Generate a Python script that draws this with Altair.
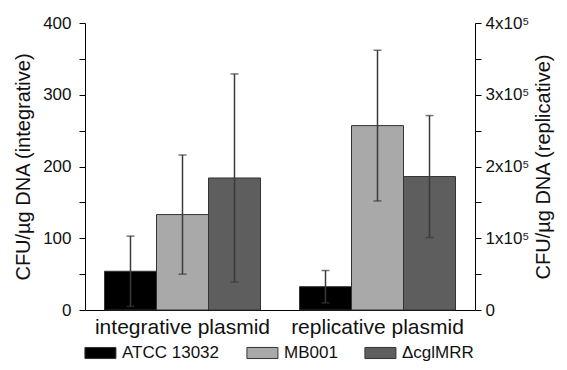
import altair as alt
import pandas as pd

groups = ["integrative plasmid", "replicative plasmid"]
strains = ["ATCC 13032", "MB001", "ΔcglMRR"]
colors = ["#000000", "#a9a9a9", "#5e5e5e"]

integrative_means = [54, 133, 184]
integrative_err = [49, 83, 145]
replicative_means = [32500, 257000, 186000]
replicative_err = [22500, 105000, 85000]

left_ticks = [0, 50, 100, 150, 200, 250, 300, 350, 400]
right_ticks = [0, 50000, 100000, 150000, 200000, 250000, 300000, 350000, 400000]


def make_df(group, means, errs):
    return pd.DataFrame({
        "group": [group] * len(strains),
        "strain": strains,
        "mean": means,
        "lo": [m - e for m, e in zip(means, errs)],
        "hi": [m + e for m, e in zip(means, errs)],
    })


df_int = make_df(groups[0], integrative_means, integrative_err)
df_rep = make_df(groups[1], replicative_means, replicative_err)

FONT = "Liberation Sans"

x_enc = alt.X(
    "group:N",
    sort=groups,
    scale=alt.Scale(domain=groups, paddingInner=0.2, paddingOuter=0.1),
    axis=alt.Axis(
        title=None, ticks=False, labelAngle=0, labelFontSize=21, labelPadding=6,
        labelColor="#111", domainColor="#000", domainWidth=1, labelFont=FONT,
    ),
)
xoff_enc = alt.XOffset("strain:N", sort=strains, scale=alt.Scale(paddingInner=0, paddingOuter=0))
color_enc = alt.Color(
    "strain:N",
    sort=strains,
    scale=alt.Scale(domain=strains, range=colors),
    legend=alt.Legend(
        title=None, orient="none", legendX=-1, legendY=318, direction="horizontal",
        columns=3, symbolType="M-1,-0.5H1.8V0.5H-1Z", symbolSize=490,
        symbolStrokeColor="#333", symbolStrokeWidth=1, labelOffset=14,
        columnPadding=24, labelFontSize=17, labelFont=FONT, labelColor="#111",
        labelLimit=0,
    ),
)


def layer_for(df, domain, axis):
    base = alt.Chart(df)
    scale = alt.Scale(domain=domain, nice=False, zero=True)
    bars = base.mark_bar(stroke="#333", strokeWidth=1).encode(
        x=x_enc,
        xOffset=xoff_enc,
        y=alt.Y("mean:Q", scale=scale, axis=axis),
        color=color_enc,
    )
    rule = base.mark_rule(color="#3a3a3a", strokeWidth=1.5).encode(
        x=x_enc, xOffset=xoff_enc,
        y=alt.Y("lo:Q", scale=scale, axis=axis), y2="hi:Q",
    )
    cap_lo = base.mark_tick(color="#3a3a3a", thickness=1.5, size=8, orient="horizontal").encode(
        x=x_enc, xOffset=xoff_enc, y=alt.Y("lo:Q", scale=scale, axis=axis),
    )
    cap_hi = base.mark_tick(color="#3a3a3a", thickness=1.5, size=8, orient="horizontal").encode(
        x=x_enc, xOffset=xoff_enc, y=alt.Y("hi:Q", scale=scale, axis=axis),
    )
    return alt.layer(bars, rule, cap_lo, cap_hi)


left_axis = alt.Axis(
    title="CFU/µg DNA (integrative)", orient="left", values=left_ticks,
    labelExpr="datum.value % 100 == 0 ? datum.label : ''",
    grid=False, tickSize=6, tickColor="#000", domainColor="#000",
    labelFontSize=17, labelFont=FONT, labelColor="#111", labelPadding=8,
    titleFontSize=20, titleFont=FONT, titleFontWeight="normal", titleColor="#111",
    titlePadding=9,
)
right_axis = alt.Axis(
    title="CFU/µg DNA (replicative)", orient="right", values=right_ticks,
    labelExpr="datum.value == 0 ? '0' : (datum.value % 100000 == 0 ? (datum.value / 100000) + 'x10⁵' : '')",
    grid=False, tickSize=6, tickColor="#000", domainColor="#000",
    labelFontSize=17, labelFont=FONT, labelColor="#111", labelPadding=4,
    titleFontSize=20, titleFont=FONT, titleFontWeight="normal", titleColor="#111",
    titlePadding=5, titleAngle=270, titleBaseline="top",
)

chart = alt.layer(
    layer_for(df_int, [0, 400], left_axis),
    layer_for(df_rep, [0, 400000], right_axis),
).resolve_scale(y="independent").properties(
    width=390,
    height=287,
    autosize=alt.AutoSizeParams(type="none"),
    padding={"left": 77, "top": 15, "right": 84, "bottom": 52},
    background="white",
).configure_view(stroke=None)

chart.save("out.html", embed_options={"renderer": "svg", "actions": False})
